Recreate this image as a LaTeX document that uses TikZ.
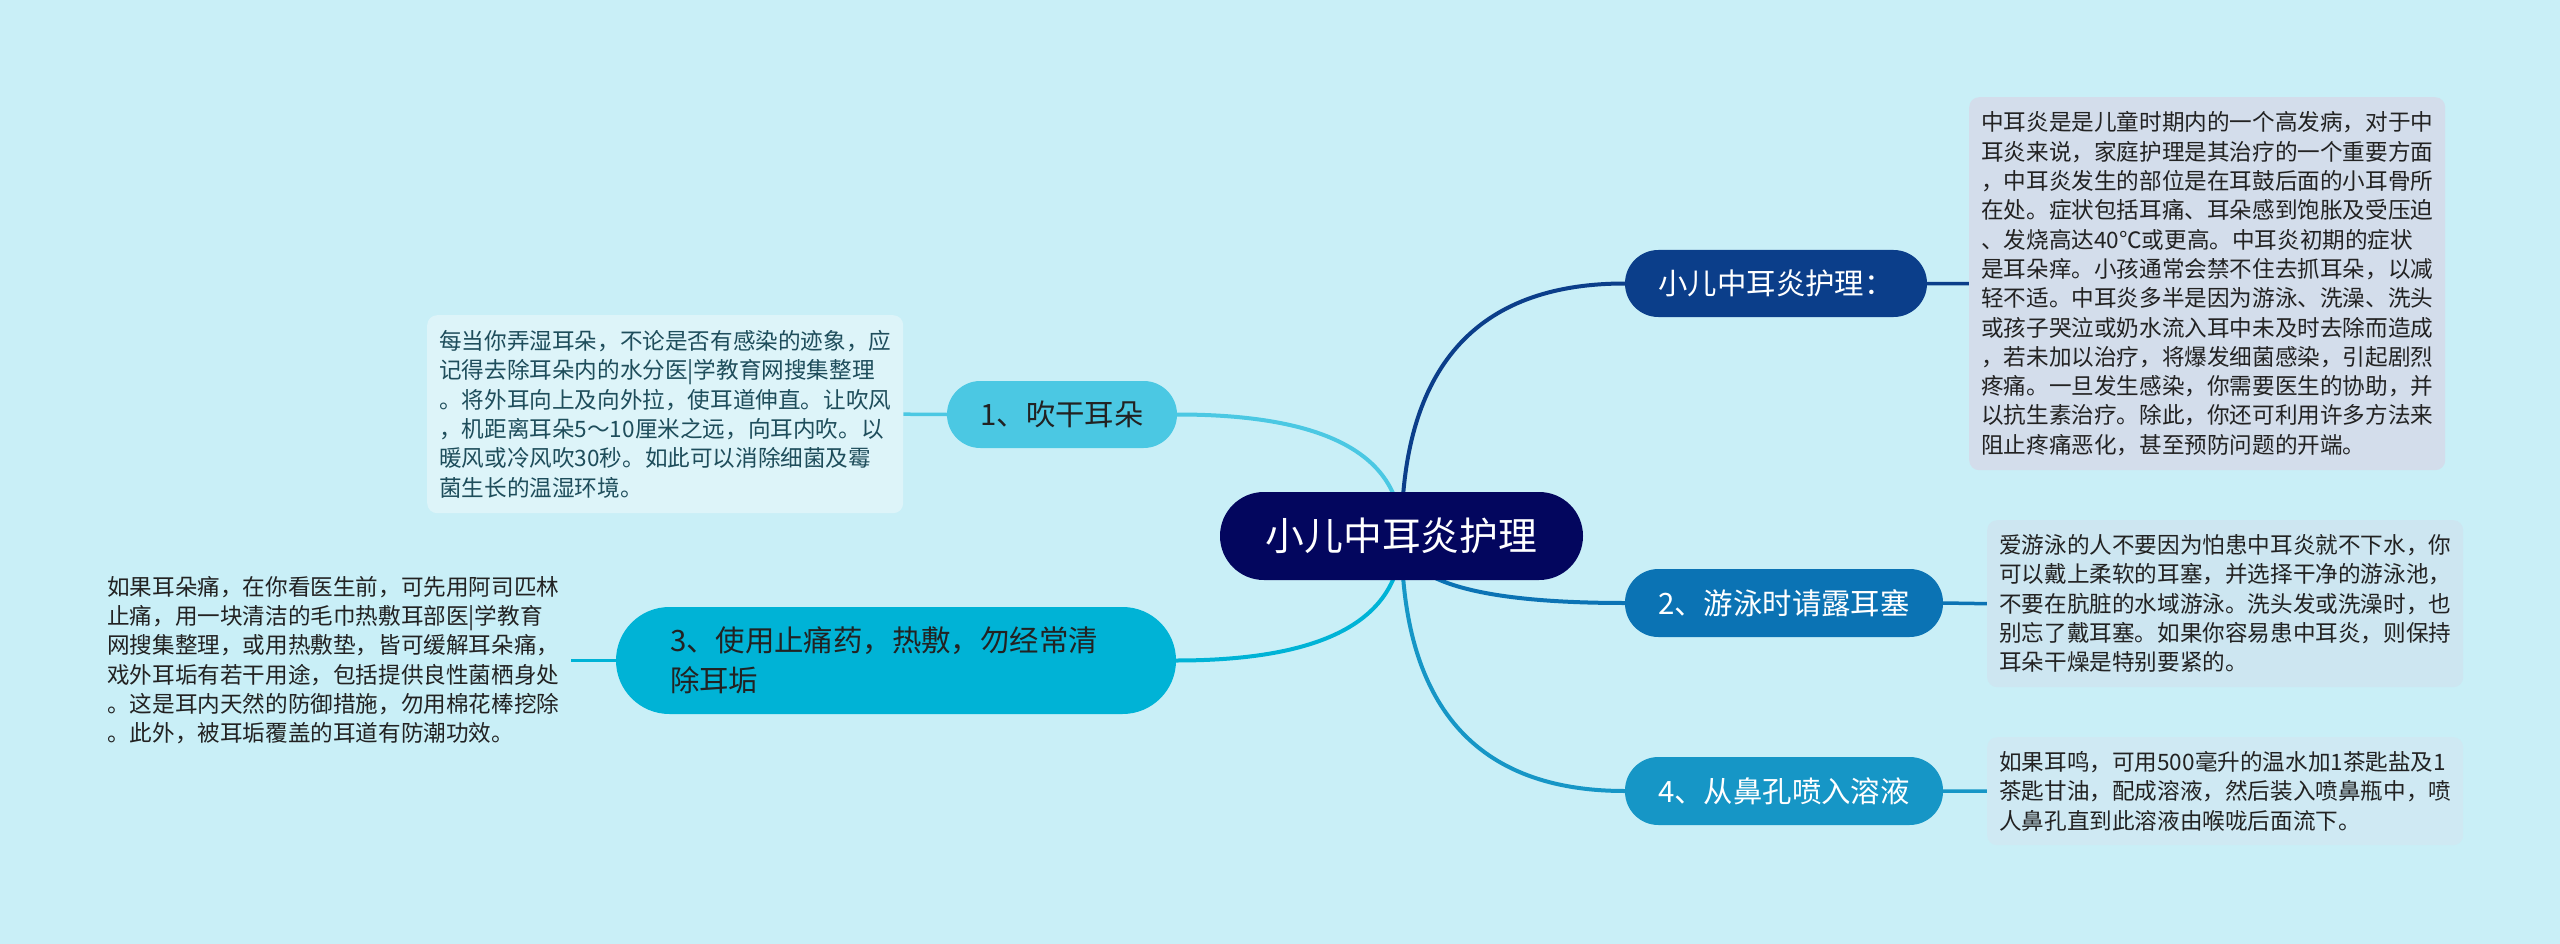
\documentclass[tikz,border=0pt]{standalone}
\usepackage{fontspec}
\setmainfont{Noto Sans CJK SC}
\usetikzlibrary{calc}
\definecolor{bg}{HTML}{C9EFF7}
\definecolor{cRoot}{HTML}{03065E}
\definecolor{cN0}{HTML}{0B3E8A}
\definecolor{cN2}{HTML}{0B73B4}
\definecolor{cN4}{HTML}{1696C6}
\definecolor{cN1}{HTML}{4BC8E3}
\definecolor{cN3}{HTML}{00B3D6}
\definecolor{boxR1}{HTML}{D3DDEB}
\definecolor{boxR2}{HTML}{CDE6F1}
\definecolor{boxR4}{HTML}{CFE9F3}
\definecolor{boxL1}{HTML}{DDF4F9}
\definecolor{txtL1}{HTML}{1E4D5B}
\definecolor{txtDark}{HTML}{222222}
\pgfdeclarelayer{bglayer}
\pgfdeclarelayer{edges}
\pgfsetlayers{bglayer,edges,main}
\begin{document}
\begin{tikzpicture}[x=1pt,y=-1pt,
  rootnode/.style={fill=cRoot, text=white, inner sep=0pt, minimum width=363pt, minimum height=88pt, rounded corners=43.9pt, font=\fontsize{38.8}{46}\selectfont},
  branch/.style={inner sep=0pt, minimum height=67pt, rounded corners=33.4pt, font=\fontsize{29.4}{40}\selectfont},
  bodybox/.style={anchor=north west, inner sep=0pt, minimum width=476pt, rounded corners=10pt, text width=452pt, align=left, text=txtDark, font=\fontsize{22.6}{29.3}\selectfont},
  mainedge/.style={line width=4pt},
  leafedge/.style={line width=3.5pt}
]
\useasboundingbox (0,0) rectangle (2560,944);
\begin{pgfonlayer}{bglayer}
\fill[bg] (0,0) rectangle (2560,944);
\end{pgfonlayer}

% central topic
\node[rootnode] (c) at (1401.5,536) {小儿中耳炎护理};

% branches
\node[branch, fill=cN0, text=white, minimum width=302pt] (n0) at (1776,283.5) {小儿中耳炎护理：};
\node[branch, fill=cN2, text=white, minimum width=318pt, minimum height=68pt] (n2) at (1784,603) {2、游泳时请露耳塞};
\node[branch, fill=cN4, text=white, minimum width=318pt, minimum height=68pt] (n4) at (1784,791) {4、从鼻孔喷入溶液};
\node[branch, fill=cN1, text=txtDark, minimum width=230pt] (n1) at (1062,414.5) {1、吹干耳朵};
\node[branch, fill=cN3, text=txtDark, minimum width=560pt, minimum height=107pt, rounded corners=53.4pt, text width=452pt, align=left] (n3) at (896,660.5) {3、使用止痛药，热敷，勿经常清\\除耳垢};

% text boxes
\node[bodybox, fill=boxR1, minimum height=373pt] (r1) at (1969,97) {中耳炎是是儿童时期内的一个高发病，对于中\\
耳炎来说，家庭护理是其治疗的一个重要方面\\
，中耳炎发生的部位是在耳鼓后面的小耳骨所\\
在处。症状包括耳痛、耳朵感到饱胀及受压迫\\
、发烧高达40℃或更高。中耳炎初期的症状\\
是耳朵痒。小孩通常会禁不住去抓耳朵，以减\\
轻不适。中耳炎多半是因为游泳、洗澡、洗头\\
或孩子哭泣或奶水流入耳中未及时去除而造成\\
，若未加以治疗，将爆发细菌感染，引起剧烈\\
疼痛。一旦发生感染，你需要医生的协助，并\\
以抗生素治疗。除此，你还可利用许多方法来\\
阻止疼痛恶化，甚至预防问题的开端。};

\node[bodybox, fill=boxR2, minimum height=167pt] (r2) at (1987,520) {爱游泳的人不要因为怕患中耳炎就不下水，你\\
可以戴上柔软的耳塞，并选择干净的游泳池，\\
不要在肮脏的水域游泳。洗头发或洗澡时，也\\
别忘了戴耳塞。如果你容易患中耳炎，则保持\\
耳朵干燥是特别要紧的。};

\node[bodybox, fill=boxR4, minimum height=108pt] (r4) at (1987,737) {如果耳鸣，可用500毫升的温水加1茶匙盐及1\\
茶匙甘油，配成溶液，然后装入喷鼻瓶中，喷\\
人鼻孔直到此溶液由喉咙后面流下。};

\node[bodybox, fill=boxL1, text=txtL1, minimum height=198pt] (l1) at (427,315) {每当你弄湿耳朵，不论是否有感染的迹象，应\\
记得去除耳朵内的水分医|学教育网搜集整理\\
。将外耳向上及向外拉，使耳道伸直。让吹风\\
，机距离耳朵5～10厘米之远，向耳内吹。以\\
暖风或冷风吹30秒。如此可以消除细菌及霉\\
菌生长的温湿环境。};

\node[bodybox, minimum height=198pt] (l3) at (95,561) {如果耳朵痛，在你看医生前，可先用阿司匹林\\
止痛，用一块清洁的毛巾热敷耳部医|学教育\\
网搜集整理，或用热敷垫，皆可缓解耳朵痛，\\
戏外耳垢有若干用途，包括提供良性菌栖身处\\
。这是耳内天然的防御措施，勿用棉花棒挖除\\
。此外，被耳垢覆盖的耳道有防潮功效。};

% connectors
\begin{pgfonlayer}{edges}
\draw[mainedge, cN0] (c.center) .. controls ($(c.center)!0.667!(c.center |- n0.west)$) and ($(n0.west)!0.667!(c.center |- n0.west)$) .. (n0.west);
\draw[mainedge, cN2] (c.center) .. controls ($(c.center)!0.667!(c.center |- n2.west)$) and ($(n2.west)!0.667!(c.center |- n2.west)$) .. (n2.west);
\draw[mainedge, cN4] (c.center) .. controls ($(c.center)!0.667!(c.center |- n4.west)$) and ($(n4.west)!0.667!(c.center |- n4.west)$) .. (n4.west);
\draw[mainedge, cN1] (c.center) .. controls ($(c.center)!0.667!(c.center |- n1.east)$) and ($(n1.east)!0.667!(c.center |- n1.east)$) .. (n1.east);
\draw[mainedge, cN3] (c.center) .. controls ($(c.center)!0.667!(c.center |- n3.east)$) and ($(n3.east)!0.667!(c.center |- n3.east)$) .. (n3.east);
\draw[leafedge, cN0] (n0.east) -- (r1.west);
\draw[leafedge, cN2] (n2.east) -- (r2.west);
\draw[leafedge, cN4] (n4.east) -- (r4.west);
\draw[leafedge, cN1] (n1.west) -- (l1.east);
\draw[leafedge, cN3] (n3.west) -- (n3.west -| l3.east);
\end{pgfonlayer}
\end{tikzpicture}
\end{document}
